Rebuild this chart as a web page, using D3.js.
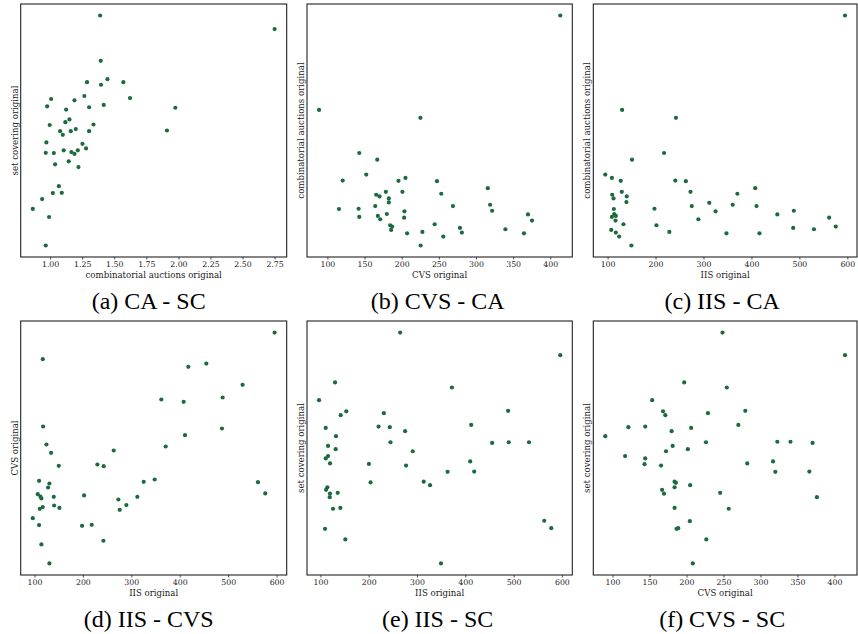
<!DOCTYPE html>
<html>
<head>
<meta charset="utf-8">
<script src="https://cdn.jsdelivr.net/npm/d3@7"></script>
<style>
  body { margin: 0; background: #fff; }
  svg { display: block; }
</style>
</head>
<body>
<div class="grid"></div>
<script>
// (a) CA - SC : [combinatorial auctions, set covering]
const caSc = [
  [1.390, 100.0], [2.750, 94.1], [1.395, 80.3], [1.447, 72.3], [1.288, 71.0],
  [1.571, 71.0], [1.397, 69.9], [1.267, 65.0], [1.623, 64.1], [1.008, 63.7],
  [1.190, 63.1], [1.418, 61.1], [0.977, 60.5], [1.304, 60.1], [1.976, 59.9],
  [1.125, 59.1], [1.151, 54.8], [1.119, 53.6], [1.338, 52.6], [0.997, 52.4],
  [1.200, 50.6], [1.078, 49.7], [1.161, 49.7], [1.304, 49.7], [1.911, 50.0],
  [1.099, 48.1], [0.971, 44.8], [1.252, 44.2], [1.280, 42.2], [1.106, 41.4],
  [1.216, 41.4], [0.966, 40.3], [1.029, 40.2], [1.166, 40.6], [1.190, 39.8],
  [1.145, 36.6], [1.039, 35.3], [1.221, 34.1], [1.068, 25.8], [1.021, 22.8],
  [1.091, 22.9], [0.938, 20.2], [0.865, 15.9], [0.992, 12.4], [0.966, 0.0]
]

// (b) CVS - CA : [CVS, combinatorial auctions]
const cvsCa = [
  [413.4, 2.750], [88.8, 1.976], [225.2, 1.911], [142.9, 1.623], [167.1, 1.568],
  [152.3, 1.446], [120.6, 1.397], [195.7, 1.395], [205.1, 1.419], [247.5, 1.392],
  [315.9, 1.335], [178.7, 1.305], [201.0, 1.305], [253.3, 1.289], [165.7, 1.281],
  [170.2, 1.267], [182.7, 1.251], [182.7, 1.218], [319.0, 1.199], [164.4, 1.188],
  [269.0, 1.188], [115.6, 1.164], [142.0, 1.166], [321.7, 1.150], [203.7, 1.145],
  [180.0, 1.123], [370.0, 1.120], [167.9, 1.107], [142.9, 1.099], [203.3, 1.093],
  [171.1, 1.080], [375.4, 1.069], [184.5, 1.031], [187.2, 1.020], [185.8, 0.993],
  [244.4, 1.039], [278.4, 1.009], [339.6, 0.998], [227.9, 0.976], [281.0, 0.971],
  [207.3, 0.965], [364.6, 0.965], [256.0, 0.938], [225.6, 0.865]
]

// (c) IIS - CA : [IIS, combinatorial auctions]
const iisCa = [
  [595.2, 2.750], [130.3, 1.976], [242.6, 1.911], [217.8, 1.623], [151.0, 1.568],
  [95.2, 1.446], [109.0, 1.419], [127.5, 1.395], [241.2, 1.397], [263.2, 1.392],
  [407.9, 1.335], [129.6, 1.305], [272.9, 1.305], [370.7, 1.289], [109.6, 1.281],
  [139.9, 1.267], [112.4, 1.251], [139.3, 1.221], [312.1, 1.215], [361.0, 1.199],
  [275.6, 1.188], [410.6, 1.188], [113.1, 1.164], [197.8, 1.166], [488.4, 1.150],
  [325.2, 1.145], [113.8, 1.123], [454.0, 1.120], [117.2, 1.107], [109.0, 1.099],
  [562.1, 1.093], [289.4, 1.080], [116.5, 1.069], [133.1, 1.039], [201.9, 1.031],
  [575.9, 1.020], [487.1, 1.009], [107.6, 0.993], [530.4, 0.998], [228.8, 0.976],
  [117.2, 0.971], [347.9, 0.965], [416.8, 0.965], [124.1, 0.938], [149.6, 0.865]
]

// (d) IIS - CVS : [IIS, CVS]
const iisCvs = [
  [595.9, 413.4], [117.2, 375.9], [454.9, 369.8], [417.7, 365.2], [529.8, 339.9],
  [362.0, 319.3], [408.1, 316.0], [488.6, 322.1], [487.2, 278.5], [117.9, 281.3],
  [410.9, 269.1], [371.0, 253.2], [124.8, 256.0], [134.4, 244.3], [263.7, 247.6],
  [150.2, 226.0], [230.0, 227.9], [243.1, 225.6], [109.6, 205.0], [130.9, 201.2],
  [128.2, 195.6], [348.3, 206.8], [325.6, 203.6], [561.5, 203.1], [576.6, 187.2],
  [106.9, 186.2], [112.4, 182.9], [114.4, 180.1], [139.9, 182.5], [202.5, 184.4],
  [312.5, 182.5], [273.3, 178.7], [289.8, 170.8], [140.6, 170.3], [117.2, 168.0],
  [111.0, 165.6], [151.6, 167.0], [276.1, 164.2], [96.6, 152.5], [109.6, 142.7],
  [198.3, 141.7], [218.3, 143.1], [242.4, 120.7], [114.4, 115.5], [130.9, 88.8]
]

// (e) IIS - SC : [IIS, set covering]
const iisSc = [
  [265.1, 100.0], [596.6, 90.2], [130.3, 78.4], [372.3, 76.2], [97.2, 70.7],
  [488.6, 66.1], [153.6, 65.9], [231.4, 65.1], [142.0, 64.2], [412.2, 60.0],
  [220.4, 59.3], [243.7, 59.0], [111.0, 58.7], [275.4, 57.3], [132.3, 55.1],
  [245.1, 52.5], [455.6, 52.2], [490.0, 52.5], [531.9, 52.5], [115.8, 50.9],
  [131.6, 49.5], [291.2, 48.6], [115.8, 46.5], [111.0, 45.5], [410.2, 44.2],
  [200.4, 43.1], [119.9, 43.3], [277.4, 42.4], [363.4, 39.7], [418.4, 39.8],
  [313.9, 35.4], [327.0, 33.9], [203.9, 35.1], [114.4, 33.0], [111.7, 31.9],
  [135.8, 30.6], [119.9, 30.3], [119.3, 28.7], [126.1, 23.7], [141.3, 24.1],
  [563.5, 18.5], [578.0, 15.3], [109.6, 15.0], [151.6, 10.4], [349.7, 0.0]
]

// (f) CVS - SC : [CVS, set covering]
const cvsSc = [
  [248.7, 100.0], [414.3, 90.2], [196.9, 78.4], [254.5, 76.2], [153.6, 70.7],
  [168.3, 65.9], [279.5, 66.1], [229.0, 65.1], [171.4, 64.2], [270.1, 60.0],
  [121.4, 59.0], [144.2, 59.3], [206.3, 58.7], [179.9, 57.3], [90.2, 55.1],
  [226.3, 52.5], [322.8, 52.7], [340.6, 52.7], [370.5, 52.2], [181.3, 50.9],
  [201.8, 49.5], [172.3, 48.6], [117.0, 46.5], [144.2, 45.5], [143.3, 43.0],
  [165.6, 42.4], [282.1, 43.3], [317.0, 44.2], [320.1, 39.7], [366.1, 39.8],
  [183.9, 35.4], [185.7, 34.9], [183.9, 33.0], [204.9, 33.9], [167.0, 31.9],
  [169.6, 30.2], [245.5, 30.6], [376.3, 28.7], [183.9, 24.1], [257.1, 23.7],
  [204.5, 18.3], [186.6, 15.0], [188.8, 15.3], [226.8, 10.4], [208.5, 0.0]
]

const caTicks = [1.0, 1.25, 1.5, 1.75, 2.0, 2.25, 2.5, 2.75]
const cvsTicks = [100, 150, 200, 250, 300, 350, 400]
const iisTicks = [100, 200, 300, 400, 500, 600]

const captions = ['(a) CA - SC', '(b) CVS - CA', '(c) IIS - CA', '(d) IIS - CVS', '(e) IIS - SC', '(f) CVS - SC']
const xLabels = ['combinatorial auctions original', 'CVS original', 'IIS original', 'IIS original', 'IIS original', 'CVS original']
const yLabels = ['set covering original', 'combinatorial auctions original', 'combinatorial auctions original', 'CVS original', 'set covering original', 'set covering original']

const panels = [
  { data: caSc, ticks: caTicks, fmt: d3.format('.2f') },
  { data: cvsCa, ticks: cvsTicks, fmt: d3.format('d') },
  { data: iisCa, ticks: iisTicks, fmt: d3.format('d') },
  { data: iisCvs, ticks: iisTicks, fmt: d3.format('d') },
  { data: iisSc, ticks: iisTicks, fmt: d3.format('d') },
  { data: cvsSc, ticks: cvsTicks, fmt: d3.format('d') },
]

const width = 858
const height = 634
const cols = [[20.7, 286.7], [307, 572.3], [593.3, 857]]
const rows = [[4, 257], [321, 575]]
const captionShift = [-5, -2, -3]
const green = '#1b6b3f'
const serif = '"DejaVu Serif", serif'

// matplotlib-style 5% margins around the data extent
const padded = ext => {
  const m = (ext[1] - ext[0]) * 0.05
  return [ext[0] - m, ext[1] + m]
}

const svg = d3
  .select('.grid')
  .append('svg')
  .attr('width', width)
  .attr('height', height)

panels.forEach((p, i) => {
  const [x0, x1] = cols[i % 3]
  const [y0, y1] = rows[Math.floor(i / 3)]

  const x = d3
    .scaleLinear()
    .domain(padded(d3.extent(p.data, d => d[0])))
    .range([x0, x1])
  const y = d3
    .scaleLinear()
    .domain(padded(d3.extent(p.data, d => d[1])))
    .range([y1, y0])

  const g = svg.append('g')

  g.append('g')
    .selectAll('circle')
    .data(p.data)
    .enter()
    .append('circle')
    .attr('cx', d => x(d[0]))
    .attr('cy', d => y(d[1]))
    .attr('r', 2.1)
    .attr('fill', green)

  const xAxis = g
    .append('g')
    .attr('transform', `translate(0,${y1})`)
    .call(d3.axisBottom(x).tickValues(p.ticks).tickFormat(p.fmt).tickSize(2.5).tickPadding(2))
  xAxis.select('.domain').remove()
  xAxis.selectAll('line').attr('stroke', '#222').attr('stroke-width', 0.8)
  xAxis.selectAll('text').attr('font-family', serif).attr('font-size', 7.8).attr('fill', '#222')

  g.append('rect')
    .attr('x', x0)
    .attr('y', y0)
    .attr('width', x1 - x0)
    .attr('height', y1 - y0)
    .attr('fill', 'none')
    .attr('stroke', '#222')
    .attr('stroke-width', 1.1)

  g.append('text')
    .attr('x', (x0 + x1) / 2)
    .attr('y', y1 + 21)
    .attr('text-anchor', 'middle')
    .attr('font-family', serif)
    .attr('font-size', 8.6)
    .attr('fill', '#222')
    .text(xLabels[i])

  g.append('text')
    .attr('transform', `translate(${x0 - 6},${(y0 + y1) / 2}) rotate(-90)`)
    .attr('text-anchor', 'middle')
    .attr('dominant-baseline', 'central')
    .attr('font-family', serif)
    .attr('font-size', 8.6)
    .attr('fill', '#222')
    .text(yLabels[i])

  g.append('text')
    .attr('x', (x0 + x1) / 2 + captionShift[i % 3])
    .attr('y', y1 + 52)
    .attr('text-anchor', 'middle')
    .attr('font-family', '"Liberation Serif", "Times New Roman", serif')
    .attr('font-size', 24)
    .attr('fill', '#000')
    .text(captions[i])
})
</script>
</body>
</html>
